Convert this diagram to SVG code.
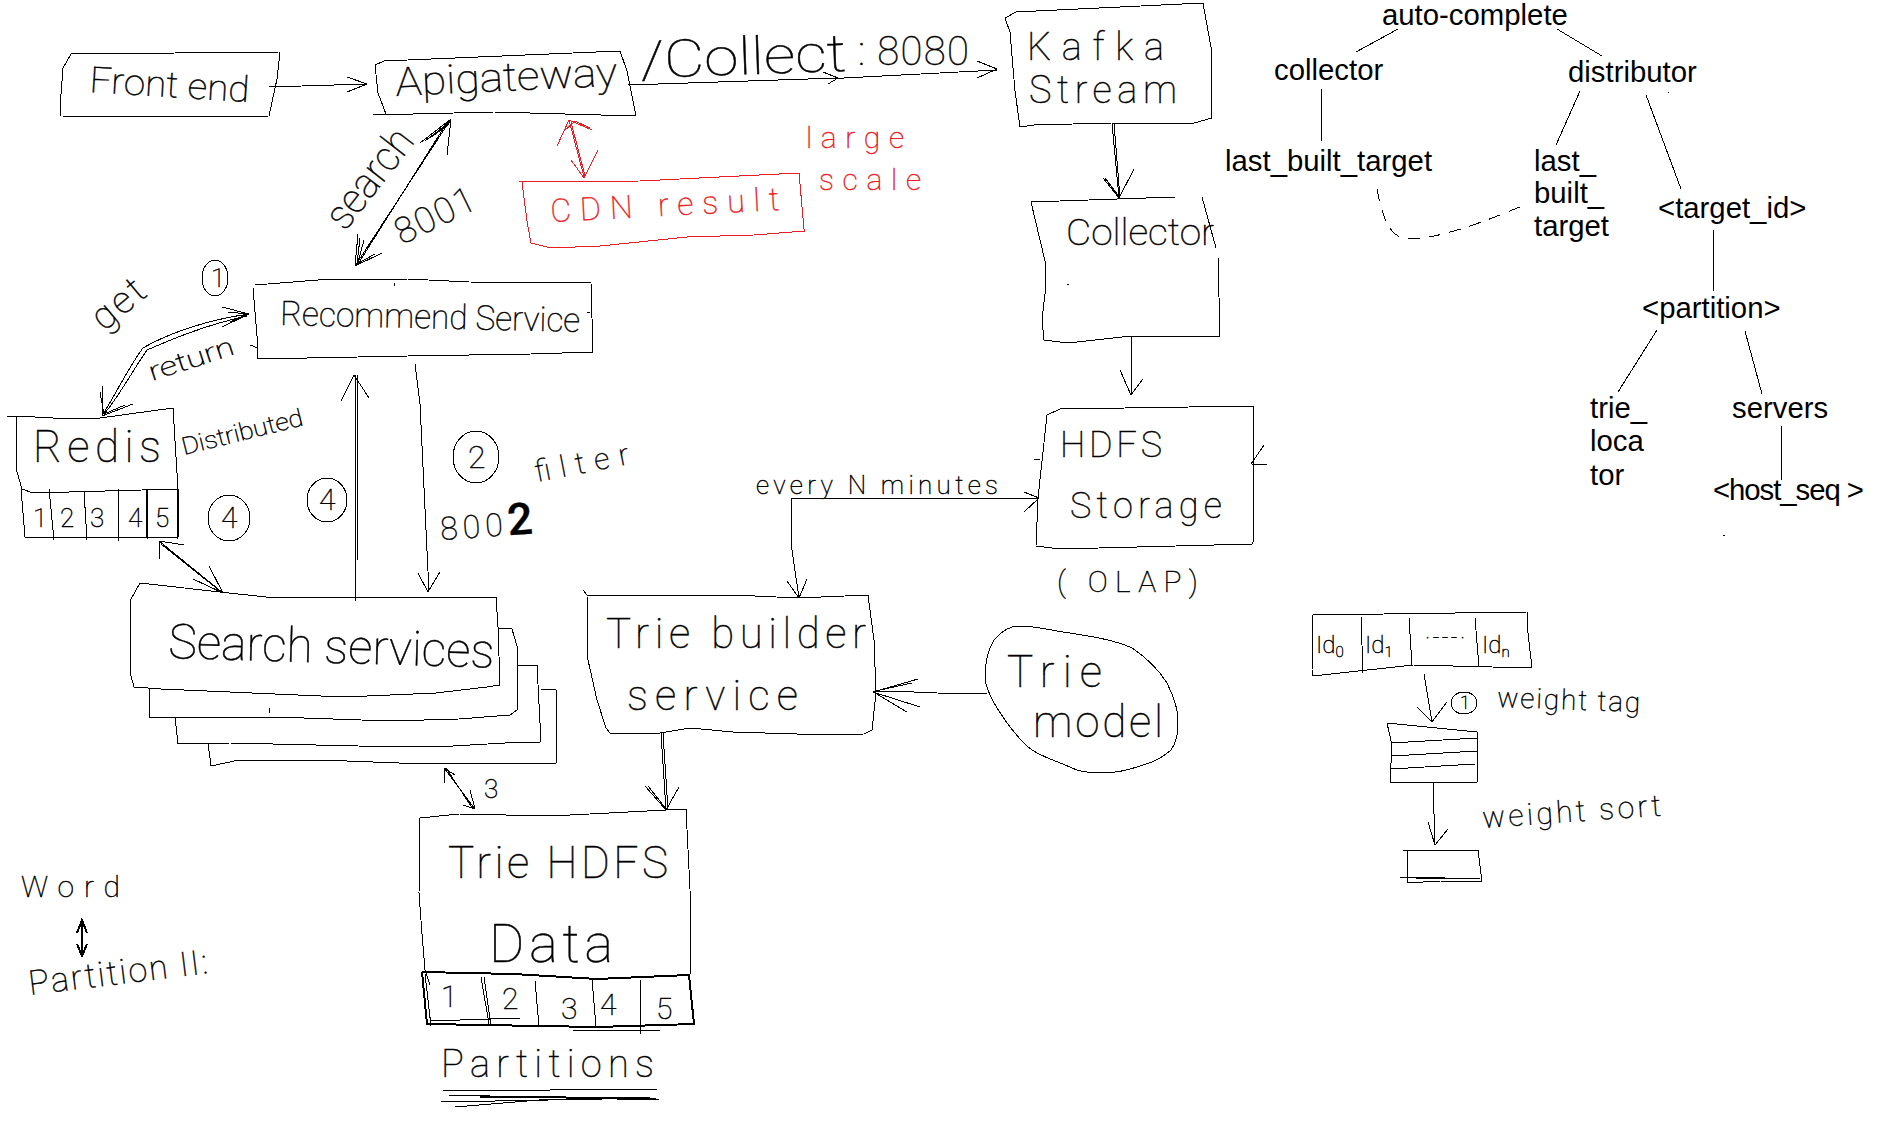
<svg xmlns="http://www.w3.org/2000/svg" width="1879" height="1147" viewBox="0 0 1879 1147">
<style>
.s{fill:none;stroke:#000;stroke-width:1;shape-rendering:crispEdges;stroke-linejoin:round}
.b{fill:none;stroke:#000;stroke-width:2;shape-rendering:crispEdges}
.r{fill:none;stroke:#ed1c24;stroke-width:1;shape-rendering:crispEdges}
.d{stroke-dasharray:12 9}
.h{font-family:"Roboto","Liberation Sans",sans-serif;font-weight:100;fill:#000;stroke:#000;stroke-width:.45}
.hr{font-family:"Roboto","Liberation Sans",sans-serif;font-weight:100;fill:#ed1c24;stroke:#ed1c24;stroke-width:.45}
.t{font-family:"Liberation Sans",Arial,sans-serif;font-size:29.33px;fill:#000}
</style>
<rect width="1879" height="1147" fill="#fff"/>
<g id="front-end">
<path class="s" d="M71 54L280 52L277 79L269 116L165 117L61 116L60 107L63 68Z"/>
<text class="h" font-size="36" x="89" y="92" textLength="160" lengthAdjust="spacingAndGlyphs" transform="rotate(3.6 89 92)">Front end</text>
</g>
<g id="api-gateway">
<path class="s" d="M384 61L620 51L627 71L636 116L494 112L373 115M375 65L378 93L386 114M384 61L375 65"/>
<text class="h" font-size="40" x="396" y="96" textLength="222" lengthAdjust="spacingAndGlyphs" transform="rotate(-2.7 396 96)">Apigateway</text>
</g>
<g id="kafka-stream">
<path class="s" d="M1005 18L1016 12L1203 3L1211 47L1212 118L1194 123L1112 123L1034 125L1020 127L1015 91L1010 32Z"/>
<text class="h" font-size="38" x="1027" y="60" textLength="137" lengthAdjust="spacing">Kafka</text>
<text class="h" font-size="38" x="1029" y="103" textLength="148" lengthAdjust="spacing">Stream</text>
</g>
<g id="collector">
<path class="s" d="M1031 202L1175 197M1031 202L1045 261L1046 285L1042 320L1044 340L1068 343L1131 336L1220 336L1218 257M1202 197L1216 248"/>
<text class="h" font-size="36" x="1066" y="245" textLength="148" lengthAdjust="spacingAndGlyphs">Collector</text>
<path class="s" d="M1067 284h2"/>
</g>
<g id="hdfs-storage">
<path class="s" d="M1047 415L1060 409L1254 406L1253 544L1060 549L1036 546L1038 498Z"/>
<path class="s" d="M1034 459L1040 460M1252 464L1267 464M1264 445L1251 464"/>
<text class="h" font-size="36" x="1060" y="457" textLength="102" lengthAdjust="spacing">HDFS</text>
<text class="h" font-size="36" x="1070" y="518" textLength="152" lengthAdjust="spacing">Storage</text>
<text class="h" font-size="30" x="1057" y="592" textLength="141" lengthAdjust="spacing">( OLAP)</text>
</g>
<g id="cdn-result">
<path class="r" d="M519 182L640 181L799 173L804 229L805 231L754 235L687 237L600 246L551 248L531 243L527 221L522 182"/>
<text class="hr" font-size="32" x="551" y="222" textLength="229" lengthAdjust="spacing" transform="rotate(-3 551 222)">CDN result</text>
</g>
<g id="recommend-service">
<path class="s" d="M255 285L318 280L408 279L469 282L591 283L593 352L531 354L408 356L257 359L258 348L253 288"/>
<path class="s" d="M394 286L395 283M587 312L590 313M250 345L258 348"/>
<text class="h" font-size="34" x="280" y="325" textLength="300" lengthAdjust="spacingAndGlyphs" transform="rotate(1.3 280 325)">Recommend Service</text>
</g>
<g id="redis">
<path class="s" d="M7 416H16L53 418H100L173 408L178 489L178 537H25L21 489M16 416V468L22 489L33 493L178 489"/>
<path class="s" d="M49 489L54 540M84 491L87 540M118 489V541M147 489V539M177 489V539"/>
<path class="b" d="M147 490V538"/>
<text class="h" font-size="44" x="33" y="462" textLength="128" lengthAdjust="spacing">Redis</text>
<text class="h" font-size="26" x="33" y="527">1</text>
<text class="h" font-size="26" x="60" y="527">2</text>
<text class="h" font-size="26" x="90" y="527">3</text>
<text class="h" font-size="26" x="128" y="527">4</text>
<text class="h" font-size="26" x="155" y="527">5</text>
</g>
<g id="search-services">
<path class="s" d="M140 583L220 592L275 598L496 597L498 627L500 685L487 687L436 693L344 697L275 694L161 689L134 687L130 672V601Z"/>
<path class="s" d="M498 628L512 629L517 646V710L510 715L459 719L390 721L275 717L149 717V689"/>
<path class="s" d="M517 666L537 665L541 742L505 743L436 747L358 746L230 743L178 744L175 717"/>
<path class="s" d="M541 689L556 690V763H399L321 760L239 760L211 766L208 743M269 708V713"/>
<text class="h" font-size="48" x="168" y="658" textLength="326" lengthAdjust="spacingAndGlyphs" transform="rotate(1.7 168 658)">Search services</text>
</g>
<g id="trie-builder">
<path class="s" d="M583 590L587 595H733L798 598L868 595L874 640L876 693L872 730L864 734L829 735L733 732L690 728L660 733H610L606 728L597 700L588 660L587 595"/>
<text class="h" font-size="42" x="606" y="648" textLength="260" lengthAdjust="spacing">Trie builder</text>
<text class="h" font-size="42" x="627" y="710" textLength="171" lengthAdjust="spacing">service</text>
</g>
<g id="trie-model">
<path class="s" d="M994 640C1003 630 1010 626 1020 626C1035 626 1050 630 1063 632C1090 636 1115 640 1132 648C1150 660 1160 672 1167 683C1173 695 1178 707 1178 720C1178 733 1177 742 1171 750C1160 760 1150 763 1137 767C1125 771 1115 773 1102 773C1090 773 1080 772 1072 768C1055 760 1040 757 1028 747C1015 735 1003 718 994 703C988 692 985 685 985 677C985 665 988 650 994 640Z"/>
<text class="h" font-size="44" x="1007" y="687" textLength="95" lengthAdjust="spacing">Trie</text>
<text class="h" font-size="44" x="1033" y="737" textLength="130" lengthAdjust="spacing">model</text>
</g>
<g id="trie-hdfs-data">
<path class="s" d="M420 818L459 814L551 816L686 809L690 889L691 974M420 818L419 893L422 934L425 970L430 985"/>
<path class="b" d="M422 972L514 974L597 979L689 975L694 1024L597 1027L427 1024L422 972"/>
<path class="s" d="M425 974L431 1026M481 977L489 1024M484 977L491 1026M535 981L539 1026M592 979L596 1027M640 979L641 1034M573 1030L660 1030M430 1021L520 1018"/>
<text class="h" font-size="44" x="448" y="878" textLength="220" lengthAdjust="spacing">Trie HDFS</text>
<text class="h" font-size="54" x="489" y="962" textLength="124" lengthAdjust="spacing">Data</text>
<text class="h" font-size="30" x="441" y="1007">1</text>
<text class="h" font-size="30" x="502" y="1009">2</text>
<text class="h" font-size="30" x="561" y="1019">3</text>
<text class="h" font-size="30" x="600" y="1015">4</text>
<text class="h" font-size="30" x="656" y="1019">5</text>
</g>
<g id="partitions">
<text class="h" font-size="38" x="441" y="1077" textLength="213" lengthAdjust="spacing">Partitions</text>
<path class="s" d="M443 1091L657 1089M448 1095L659 1100M441 1102L657 1098M455 1107L551 1099"/>
<path class="b" d="M480 1097L650 1098"/>
</g>
<g id="word-partition">
<text class="h" font-size="30" x="21" y="897" textLength="99" lengthAdjust="spacing">Word</text>
<text class="h" font-size="34" x="30" y="995" textLength="180" lengthAdjust="spacing" transform="rotate(-7 30 995)">Partition II:</text>
</g>
<g id="tree">
<text class="t" x="1382" y="25">auto-complete</text>
<text class="t" x="1274" y="80">collector</text>
<text class="t" x="1568" y="82">distributor</text>
<text class="t" x="1225" y="171">last_built_target</text>
<text class="t" x="1534" y="171">last_</text>
<text class="t" x="1534" y="203">built_</text>
<text class="t" x="1534" y="236">target</text>
<text class="t" x="1658" y="218">&lt;target_id&gt;</text>
<text class="t" x="1642" y="318">&lt;partition&gt;</text>
<text class="t" x="1590" y="418">trie_</text>
<text class="t" x="1590" y="451">loca</text>
<text class="t" x="1590" y="485">tor</text>
<text class="t" x="1732" y="418">servers</text>
<text class="t" x="1713" y="500" textLength="151" lengthAdjust="spacing">&lt;host_seq &gt;</text>
<path class="s" d="M1398 29L1356 52M1557 29L1602 56M1321 89V141M1580 91L1556 145M1646 95L1681 189M1713 230V291M1657 330L1618 392M1745 331L1762 394M1781 426V480M1668 92h1M1723 535h2"/>
<path class="s d" d="M1377 189C1382 215 1388 232 1400 237C1420 244 1470 228 1522 206"/>
</g>
<g id="id-list">
<path class="s" d="M1313 615L1527 612L1528 633L1532 668L1413 665L1313 676L1312 670L1313 615M1361 617L1363 673M1409 618L1412 665M1475 618L1479 667"/>
<text class="h" font-size="24" x="1316" y="653">Id<tspan font-size="15" dy="4">0</tspan></text>
<text class="h" font-size="24" x="1365" y="653">Id<tspan font-size="15" dy="4">1</tspan></text>
<text class="h" font-size="22" x="1425" y="645" textLength="40" lengthAdjust="spacing">· - - - ·</text>
<text class="h" font-size="24" x="1482" y="653">Id<tspan font-size="15" dy="4">n</tspan></text>
</g>
<g id="weight-tag-list">
<path class="s" d="M1387 723L1477 732V782H1390L1392 745L1387 723M1391 743L1477 738M1392 756L1477 751M1391 769L1475 764"/>
</g>
<g id="weight-sort-list">
<path class="s" d="M1403 850H1478L1482 882L1440 881L1407 883V850M1399 877L1480 879"/>
<path class="b" d="M1416 878H1445"/>
</g>
<g id="labels">
<text class="h" font-size="52" x="641" y="78" textLength="206" lengthAdjust="spacingAndGlyphs" transform="rotate(-2 641 78)">/Collect</text>
<text class="h" font-size="40" x="858" y="65" textLength="111" lengthAdjust="spacing">: 8080</text>
<text class="h" font-size="42" x="345" y="232" textLength="115" lengthAdjust="spacingAndGlyphs" transform="rotate(-52 345 232)">search</text>
<text class="h" font-size="36" x="402" y="245" textLength="85" lengthAdjust="spacing" transform="rotate(-26 402 245)">8001</text>
<text class="h" font-size="38" x="104" y="332" textLength="58" lengthAdjust="spacing" transform="rotate(-40 104 332)">get</text>
<text class="h" font-size="26" x="152" y="381" textLength="88" lengthAdjust="spacingAndGlyphs" transform="rotate(-18 152 381)">return</text>
<text class="h" font-size="24" x="184" y="455" textLength="124" lengthAdjust="spacingAndGlyphs" transform="rotate(-14 184 455)">Distributed</text>
<text class="h" font-size="30" x="537" y="482" textLength="95" lengthAdjust="spacing" transform="rotate(-11 537 482)">filter</text>
<text class="h" font-size="32" x="441" y="540" transform="rotate(-4 441 540)" letter-spacing="5">800<tspan font-size="44" font-weight="500">2</tspan></text>
<text class="h" font-size="26" x="756" y="494" textLength="242" lengthAdjust="spacing">every N minutes</text>
<text class="hr" font-size="30" x="806" y="148" textLength="98" lengthAdjust="spacing">large</text>
<text class="hr" font-size="30" x="819" y="190" textLength="102" lengthAdjust="spacing">scale</text>
<text class="h" font-size="26" x="484" y="798" textLength="13">3</text>
<text class="h" font-size="28" x="1497" y="707" textLength="143" lengthAdjust="spacing" transform="rotate(2 1497 707)">weight tag</text>
<text class="h" font-size="30" x="1483" y="828" textLength="179" lengthAdjust="spacing" transform="rotate(-4 1483 828)">weight sort</text>
<ellipse class="s" cx="215" cy="278" rx="13" ry="18"/>
<text class="h" font-size="26" x="211" y="287">1</text>
<ellipse class="s" cx="229" cy="518" rx="21" ry="23"/>
<text class="h" font-size="30" x="221" y="528">4</text>
<ellipse class="s" cx="327" cy="500" rx="20" ry="22"/>
<text class="h" font-size="30" x="319" y="510">4</text>
<ellipse class="s" cx="476" cy="457" rx="23" ry="26"/>
<text class="h" font-size="32" x="468" y="468">2</text>
<ellipse class="s" cx="1464" cy="703" rx="13" ry="11"/>
<text class="h" font-size="18" x="1460" y="709">1</text>
</g>
<g id="connectors">
<path class="s" d="M269 87L367 84M347 77L367 84L347 92"/>
<path class="s" d="M628 85L838 78M823 72L838 78L828 84M825 79L997 70M977 61L997 69L977 78"/>
<path class="s" d="M1112 123L1119 198M1114 123L1120 198M1103 178L1119 198L1134 169M1105 178L1120 198"/>
<path class="s" d="M1131 336V395M1120 370L1131 395L1143 379"/>
<path class="s" d="M791 498L1039 498M1024 492L1039 498L1024 512M791 498L792 550L799 598M787 581L799 598L807 579"/>
<path class="s" d="M451 119L355 266M448 121L358 264"/>
<path class="s" d="M420 143L451 119L447 155M425 141L451 121M430 138L449 124M358 234L355 266L382 253M360 238L357 264L375 254M364 240L358 262"/>
<path class="r" d="M569 120L584 177M571 122L585 176M557 146L569 120L592 130M563 132L575 121L590 128M571 160L584 178L598 150"/>
<path class="s" d="M249 314C205 320 165 335 143 348C130 365 115 395 102 416M247 316C205 325 170 340 147 350C133 370 118 398 104 414"/>
<path class="s" d="M222 307L249 314L222 327M228 312L247 314L230 322M102 386V416L133 404M100 392L104 414L125 405"/>
<path class="s" d="M355 375V601M357 375V560M341 401L354 375L369 398"/>
<path class="s" d="M415 364L420 404L429 592M418 573L428 592L440 572"/>
<path class="s" d="M159 541L223 593M184 545L159 541L159 559M161 544L220 591M209 566L223 593L193 579M212 572L222 591"/>
<path class="s" d="M444 768L475 809M446 768L473 809M444 768L444 783M444 768L455 775M470 790L475 809L463 805"/>
<path class="s" d="M661 733L666 810M663 733L668 810M645 786L666 810L679 787M648 786L667 810"/>
<path class="s" d="M987 694L937 693L890 691L873 692M918 679L873 692L920 707M907 712L875 693M912 683L880 690"/>
<path class="b" d="M82 921V955M77 933L82 920L87 933M77 944L82 956L87 944"/>
<path class="s" d="M1424 674L1432 722M1417 707L1432 722L1447 702"/>
<path class="s" d="M1433 782L1435 845M1428 822L1435 845L1448 829"/>
</g>
</svg>
